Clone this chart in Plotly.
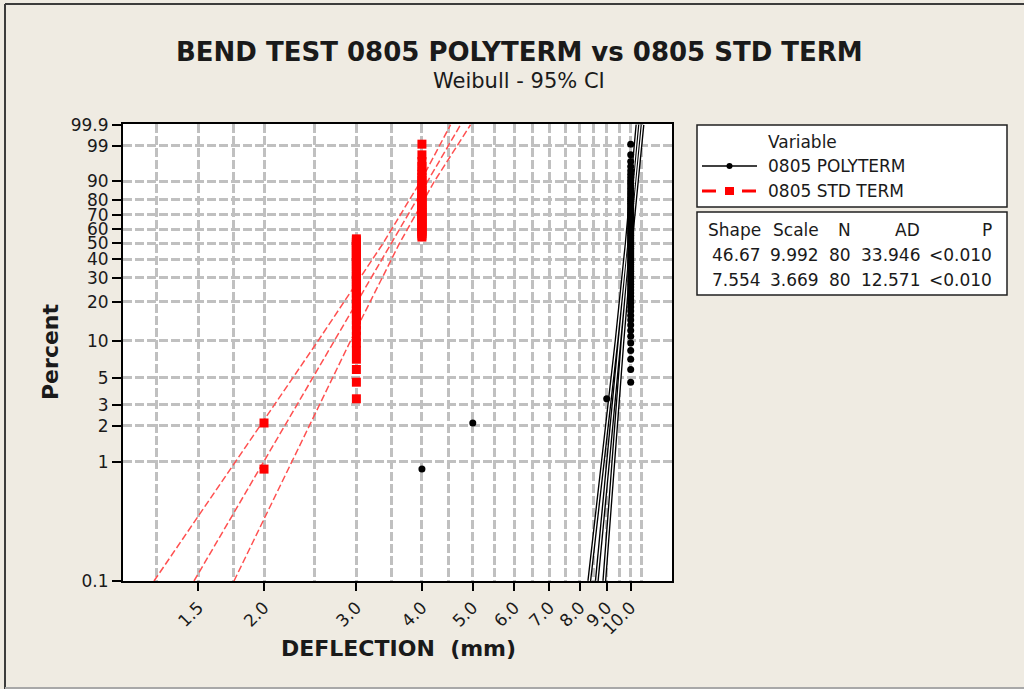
import numpy as np
import plotly.graph_objects as go

# ---------------- data ----------------
poly_values = [4.0, 5.0, 9.0, 10.0]
poly_counts = [1, 1, 1, 77]
std_values = [2.0, 3.0, 4.0]
std_counts = [2, 41, 37]

fit_pct = [0.1, 99.9]
poly_fit_x = [8.617, 10.415]
std_fit_x = [1.471, 4.739]

ci_pct = [0.1, 1, 10, 50, 90, 99.9]
poly_ci_lower = [8.337, 8.857, 9.399, 9.825, 10.081, 10.301]
poly_ci_upper = [8.906, 9.256, 9.647, 10.004, 10.264, 10.530]
std_ci_lower = [1.234, 1.765, 2.537, 3.372, 3.976, 4.536]
std_ci_upper = [1.753, 2.257, 2.925, 3.624, 4.223, 4.952]

x_tick_vals = [1.5, 2, 3, 4, 5, 6, 7, 8, 9, 10]
x_tick_text = ["1.5", "2.0", "3.0", "4.0", "5.0", "6.0", "7.0", "8.0", "9.0", "10.0"]
x_grid_minor = [1.25, 1.75, 2.5, 3.5, 4.5, 5.5, 6.5, 7.5, 8.5, 9.5, 10.5]
y_tick_pct = [0.1, 1, 2, 3, 5, 10, 20, 30, 40, 50, 60, 70, 80, 90, 99, 99.9]
y_tick_text = ["0.1", "1", "2", "3", "5", "10", "20", "30", "40", "50", "60", "70", "80", "90", "99", "99.9"]

stats_header = ["Shape", "Scale", "N", "AD", "P"]
stats_rows = [["46.67", "9.992", "80", "33.946", "<0.010"],
              ["7.554", "3.669", "80", "12.571", "<0.010"]]
series_names = ["0805 POLYTERM", "0805 STD TERM"]


def wy(pct):
    p = np.asarray(pct, dtype=float) / 100.0
    return np.log(-np.log(1.0 - p))


def expand(values, counts):
    xs = np.repeat(values, counts)
    n = len(xs)
    ranks = np.arange(1, n + 1)
    pct = (ranks - 0.3) / (n + 0.4) * 100.0
    return xs, pct


W, H = 1024, 689
ML, MR, MT, MB = 123, 352, 124, 108
PW, PH = W - ML - MR, H - MT - MB


def px(x):
    return (x - ML) / PW


def py(y):
    return (H - MB - y) / PH


FONT = "DejaVu Sans"
TXT = "#1a1a1a"
RED_LINE = "rgb(255,80,80)"

fig = go.Figure()

# STD TERM CI + fit (red dashed)
for xs, ys in [(std_ci_lower, ci_pct), (std_ci_upper, ci_pct), (std_fit_x, fit_pct)]:
    fig.add_trace(go.Scatter(x=xs, y=wy(ys), mode="lines",
                             line=dict(color=RED_LINE, width=1.5, dash="7px,3px"),
                             hoverinfo="skip", showlegend=False))

# POLYTERM CI + fit (black hollow-looking lines)
for xs, ys in [(poly_ci_lower, ci_pct), (poly_ci_upper, ci_pct), (poly_fit_x, fit_pct)]:
    fig.add_trace(go.Scatter(x=xs, y=wy(ys), mode="lines",
                             line=dict(color="black", width=4),
                             hoverinfo="skip", showlegend=False))
for xs, ys in [(poly_ci_lower, ci_pct), (poly_ci_upper, ci_pct), (poly_fit_x, fit_pct)]:
    fig.add_trace(go.Scatter(x=xs, y=wy(ys), mode="lines",
                             line=dict(color="white", width=1.3),
                             hoverinfo="skip", showlegend=False))

# data points
sx, sp = expand(std_values, std_counts)
fig.add_trace(go.Scatter(x=sx, y=wy(sp), mode="markers",
                         marker=dict(symbol="square", size=9, color="#ff0000"),
                         name=series_names[1], showlegend=False))
bx, bp = expand(poly_values, poly_counts)
fig.add_trace(go.Scatter(x=bx, y=wy(bp), mode="markers",
                         marker=dict(symbol="circle", size=7, color="black"),
                         name=series_names[0], showlegend=False))

grid = dict(gridcolor="#c0c0c0", gridwidth=2.5, griddash="9px,3px")

fig.update_xaxes(type="log", range=[0.03225, 1.07873],
                 tickmode="array", tickvals=x_tick_vals, ticktext=x_tick_text,
                 tickangle=-45, ticks="outside", ticklen=8, tickwidth=1.5, tickcolor="black",
                 tickfont=dict(family=FONT, size=17, color=TXT),
                 showline=True, linecolor="black", linewidth=2, mirror=True,
                 showgrid=True, **grid,
                 minor=dict(tickmode="array", tickvals=x_grid_minor, ticks="",
                            showgrid=True, **grid),
                 zeroline=False)
fig.update_yaxes(range=[float(wy(0.1)), float(wy(99.9)) + 0.015],
                 tickmode="array", tickvals=wy(y_tick_pct), ticktext=y_tick_text,
                 ticks="outside", ticklen=9, tickwidth=1.5, tickcolor="black",
                 tickfont=dict(family=FONT, size=17, color=TXT),
                 showline=True, linecolor="black", linewidth=2, mirror=True,
                 showgrid=True, **grid, zeroline=False)

shapes = []
ann = []

# outer frame
shapes.append(dict(type="line", xref="paper", yref="paper", x0=px(5), x1=px(5), y0=py(4), y1=py(689),
                   line=dict(color="#3c3c3c", width=2)))
shapes.append(dict(type="line", xref="paper", yref="paper", x0=px(5), x1=px(1030), y0=py(4), y1=py(4),
                   line=dict(color="#3c3c3c", width=2)))
shapes.append(dict(type="line", xref="paper", yref="paper", x0=px(5), x1=px(1030), y0=py(688), y1=py(688),
                   line=dict(color="#a8a8a8", width=2)))

# legend box & stats box
for (x0, y0, x1, y1) in [(697, 125, 1007, 207), (697, 212, 1007, 295)]:
    shapes.append(dict(type="rect", xref="paper", yref="paper", x0=px(x0), x1=px(x1), y0=py(y1), y1=py(y0),
                       fillcolor="white", line=dict(color="#202020", width=1.5), layer="below"))

# legend symbols
shapes.append(dict(type="line", xref="paper", yref="paper", x0=px(702), x1=px(757), y0=py(166), y1=py(166),
                   line=dict(color="black", width=1.3)))
shapes.append(dict(type="circle", xref="paper", yref="paper", x0=px(726.5), x1=px(732.5), y0=py(169), y1=py(163),
                   fillcolor="black", line=dict(color="black", width=0)))
for (a, b) in [(702, 716), (742, 756)]:
    shapes.append(dict(type="line", xref="paper", yref="paper", x0=px(a), x1=px(b), y0=py(191), y1=py(191),
                       line=dict(color="#ff0000", width=3)))
shapes.append(dict(type="rect", xref="paper", yref="paper", x0=px(725), x1=px(734), y0=py(195), y1=py(187),
                   fillcolor="#ff0000", line=dict(color="#ff0000", width=0)))


def text(x, y, s, size=16, bold=False, xanchor="left", yanchor="middle", angle=0, color=TXT):
    ann.append(dict(xref="paper", yref="paper", x=px(x), y=py(y), text=("<b>%s</b>" % s) if bold else s,
                    showarrow=False, xanchor=xanchor, yanchor=yanchor, textangle=angle,
                    font=dict(family=FONT, size=size, color=color)))


# titles
text(519, 52, "BEND TEST 0805 POLYTERM vs 0805 STD TERM", size=26, bold=True, xanchor="center")
text(519, 81, "Weibull - 95% CI", size=21, xanchor="center")
text(50, 352, "Percent", size=22, bold=True, xanchor="center", angle=-90)
text(398, 648, "DEFLECTION&nbsp;&nbsp;(mm)", size=22, bold=True, xanchor="center")

# legend text
text(766, 142, "Variable", size=17)
text(766, 166, series_names[0], size=17)
text(766, 191, series_names[1], size=17)

# stats table
col_right = [763, 821, 853, 922, 994]
for j, h in enumerate(stats_header):
    text(col_right[j], 230, h, size=17, xanchor="right")
for i, row in enumerate(stats_rows):
    for j, v in enumerate(row):
        text(col_right[j], 255 + 24.5 * i, v.replace("<", "&lt;"), size=17, xanchor="right")

fig.update_layout(width=W, height=H, margin=dict(l=ML, r=MR, t=MT, b=MB, pad=0),
                  paper_bgcolor="#efebe2", plot_bgcolor="white",
                  shapes=shapes, annotations=ann, showlegend=False)

fig.write_html("out.html", config={"displayModeBar": False},
               post_script="document.body.style.margin='0px';")
